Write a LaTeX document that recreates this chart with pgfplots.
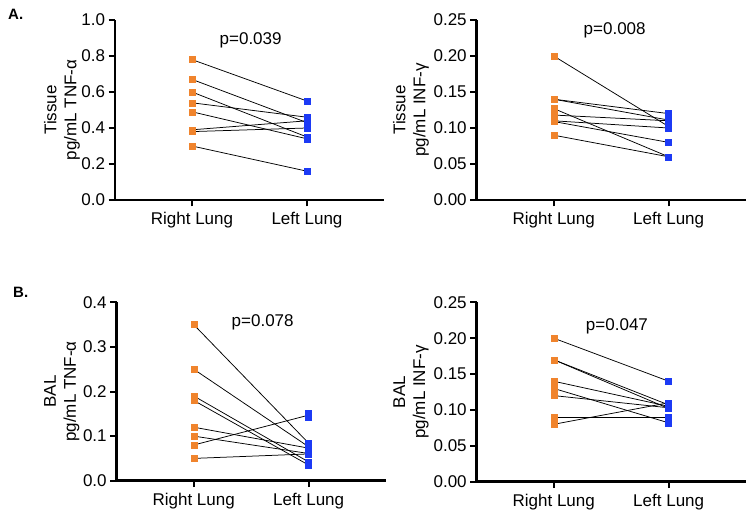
\documentclass[border=0pt]{standalone}
\usepackage{pgfplots}
\pgfplotsset{compat=1.18}
\usepackage{fontspec}
\setmainfont{Liberation Sans}
\definecolor{orng}{RGB}{240,132,45}
\definecolor{blu}{RGB}{28,58,245}
\newcommand{\pr}[2]{\addplot[black, line width=0.75pt, forget plot] coordinates {(1,#1) (2,#2)};}
\pgfplotsset{
  panel/.style={
    scale only axis, width=269pt,
    anchor=south west,
    axis x line=bottom, axis y line=left,
    axis line style={line width=2.6pt, -},
    xmin=0.33, xmax=2.67,
    xtick={1,2}, xticklabels={Right Lung, Left Lung},
    tick align=outside, major tick length=6.5pt,
    every tick/.style={line width=2pt, black},
    font=\fontsize{17}{20}\selectfont,
    tick label style={font=\fontsize{17}{20}\selectfont},
    xticklabel style={yshift=-2pt},
    /pgf/number format/assume math mode=true,
    clip=false,
    ymin=0,
    ylabel style={align=center, rotate=0, anchor=center, font=\fontsize{17}{20}\selectfont},
  },
  om/.style={only marks, mark=square*, mark size=3pt, draw=#1, fill=#1, mark options={draw=#1, fill=#1}},
}
\begin{document}
\begin{tikzpicture}
\useasboundingbox (0,0) rectangle (754pt,-518pt);
\node[anchor=base west, inner sep=0pt, font=\bfseries\fontsize{15}{16}\selectfont] at (8pt,-19.5pt) {A.};
\node[anchor=base west, inner sep=0pt, font=\bfseries\fontsize{15}{16}\selectfont] at (13pt,-297.5pt) {B.};
% A left
\begin{axis}[panel, at={(115pt,-200pt)}, height=180pt, ymax=1.0,
  ytick={0,0.2,0.4,0.6,0.8,1.0},
  yticklabel style={/pgf/number format/fixed, /pgf/number format/fixed zerofill, /pgf/number format/precision=1},
  ylabel={Tissue\\pg/mL TNF-α},
  ylabel style={at={(axis description cs:-0.197,0.5)}}]
\pr{0.78}{0.55}
\pr{0.67}{0.43}
\pr{0.60}{0.35}
\pr{0.54}{0.46}
\pr{0.49}{0.34}
\pr{0.39}{0.44}
\pr{0.38}{0.40}
\pr{0.30}{0.16}
\addplot[om=orng] coordinates {(1,0.78)(1,0.67)(1,0.60)(1,0.54)(1,0.49)(1,0.39)(1,0.38)(1,0.30)};
\addplot[om=blu] coordinates {(2,0.55)(2,0.43)(2,0.35)(2,0.46)(2,0.34)(2,0.44)(2,0.40)(2,0.16)};
\node at (axis cs:1.51,0.889) {p=0.039};
\end{axis}
% A right
\begin{axis}[panel, at={(476.7pt,-200pt)}, height=180pt, ymax=0.25,
  ytick={0,0.05,0.10,0.15,0.20,0.25},
  yticklabel style={/pgf/number format/fixed, /pgf/number format/fixed zerofill, /pgf/number format/precision=2},
  ylabel={Tissue\\pg/mL INF-γ},
  ylabel style={at={(axis description cs:-0.244,0.5)}}]
\pr{0.20}{0.102}
\pr{0.14}{0.12}
\pr{0.14}{0.111}
\pr{0.127}{0.06}
\pr{0.118}{0.11}
\pr{0.11}{0.10}
\pr{0.109}{0.08}
\pr{0.09}{0.06}
\addplot[om=orng] coordinates {(1,0.20)(1,0.14)(1,0.14)(1,0.127)(1,0.118)(1,0.11)(1,0.109)(1,0.09)};
\addplot[om=blu] coordinates {(2,0.102)(2,0.12)(2,0.111)(2,0.06)(2,0.11)(2,0.10)(2,0.08)(2,0.06)};
\node at (axis cs:1.53,0.235) {p=0.008};
\end{axis}
% B left
\begin{axis}[panel, at={(116.7pt,-480.7pt)}, height=178.4pt, ymax=0.4,
  ytick={0,0.1,0.2,0.3,0.4},
  yticklabel style={/pgf/number format/fixed, /pgf/number format/fixed zerofill, /pgf/number format/precision=1},
  ylabel={BAL\\pg/mL TNF-α},
  ylabel style={at={(axis description cs:-0.204,0.5)}}]
\pr{0.35}{0.084}
\pr{0.25}{0.076}
\pr{0.19}{0.042}
\pr{0.18}{0.035}
\pr{0.12}{0.073}
\pr{0.10}{0.061}
\pr{0.08}{0.147}
\pr{0.05}{0.060}
\addplot[om=orng] coordinates {(1,0.35)(1,0.25)(1,0.19)(1,0.18)(1,0.12)(1,0.10)(1,0.08)(1,0.05)};
\addplot[om=blu] coordinates {(2,0.084)(2,0.076)(2,0.042)(2,0.035)(2,0.073)(2,0.061)(2,0.152)(2,0.142)(2,0.060)};
\node at (axis cs:1.6,0.354) {p=0.078};
\end{axis}
% B right
\begin{axis}[panel, at={(476.7pt,-481.7pt)}, height=179.4pt, ymax=0.25,
  ytick={0,0.05,0.10,0.15,0.20,0.25},
  yticklabel style={/pgf/number format/fixed, /pgf/number format/fixed zerofill, /pgf/number format/precision=2},
  ylabel={BAL\\pg/mL INF-γ},
  ylabel style={at={(axis description cs:-0.244,0.5)}}]
\pr{0.20}{0.14}
\pr{0.17}{0.107}
\pr{0.17}{0.102}
\pr{0.14}{0.105}
\pr{0.13}{0.082}
\pr{0.12}{0.103}
\pr{0.09}{0.09}
\pr{0.08}{0.11}
\addplot[om=orng] coordinates {(1,0.20)(1,0.17)(1,0.17)(1,0.14)(1,0.13)(1,0.12)(1,0.09)(1,0.08)};
\addplot[om=blu] coordinates {(2,0.14)(2,0.107)(2,0.102)(2,0.105)(2,0.082)(2,0.103)(2,0.09)(2,0.11)};
\node at (axis cs:1.55,0.216) {p=0.047};
\end{axis}
\end{tikzpicture}
\end{document}
